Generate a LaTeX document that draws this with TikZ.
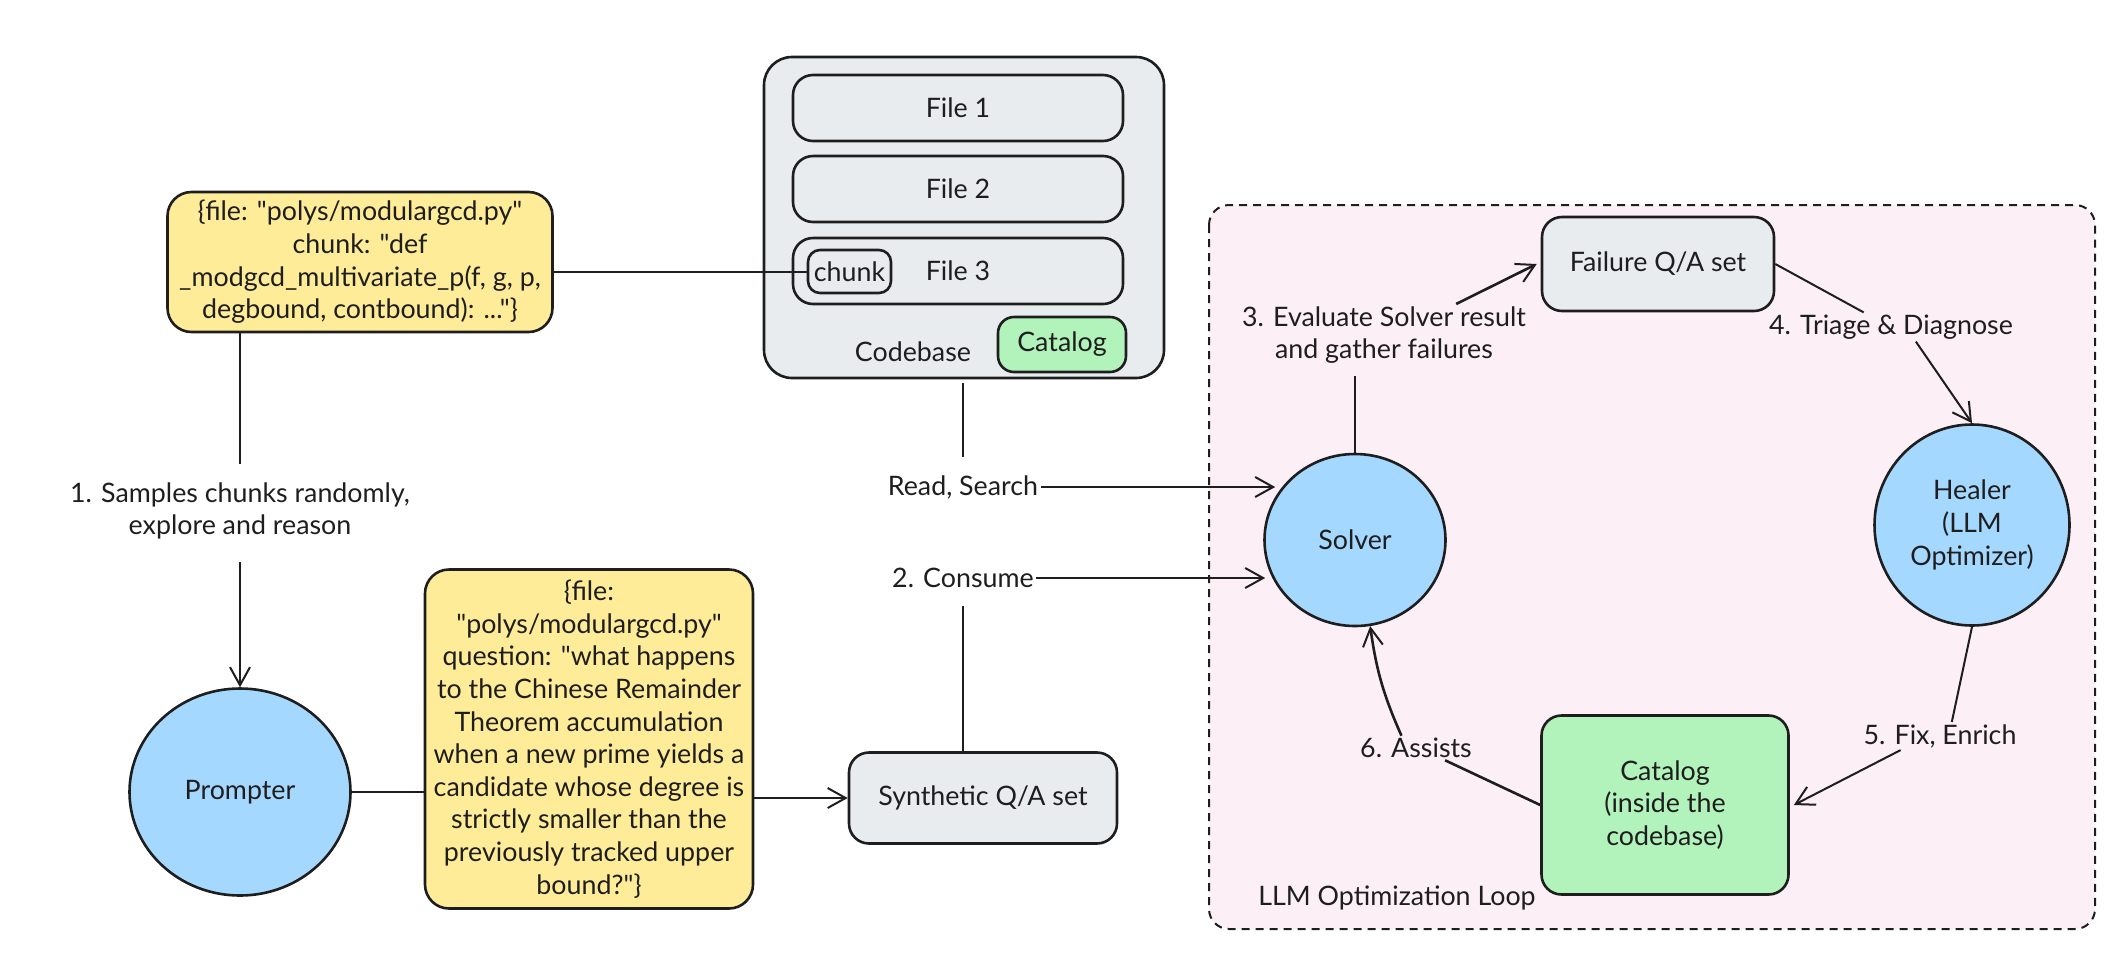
\documentclass[tikz,border=0pt]{standalone}
\usepackage{fontspec}
\newfontfamily\lato{Lato}
\usetikzlibrary{arrows.meta,calc,shapes.geometric}
\definecolor{ink}{HTML}{1E1E1E}
\definecolor{yel}{HTML}{FFEC99}
\definecolor{gry}{HTML}{E9ECEF}
\definecolor{blu}{HTML}{A5D8FF}
\definecolor{grn}{HTML}{B2F2BB}
\definecolor{pnk}{HTML}{FCEFF5}
\tikzset{
  base/.style={draw=ink,line width=1.3pt,text=ink,inner sep=0pt,align=center,
    font=\lato\fontsize{13.4}{16.3}\selectfont},
  ybox/.style={base,fill=yel,rounded corners=12pt},
  gbox/.style={base,fill=gry,rounded corners=10pt},
  cbox/.style={base,fill=grn,rounded corners=10pt},
  bcirc/.style={base,fill=blu,ellipse},
  lbl/.style={text=ink,inner sep=1pt,align=center,font=\lato\fontsize{13.4}{16.3}\selectfont},
  conn/.style={draw=ink,line width=1pt},
  arr/.style={conn,-{Straight Barb[length=9pt,width=10pt,line width=1pt]}},
}
\begin{document}
\begin{tikzpicture}[x=0.5pt,y=-0.5pt]
\useasboundingbox (0,0) rectangle (2120,954);
% loop region
\draw[fill=pnk,draw=ink,line width=1pt,dash pattern=on 4pt off 3pt,rounded corners=10pt]
  (1209,205) rectangle (2095,929);
% codebase
\node[gbox,minimum width=200pt,minimum height=160.5pt,rounded corners=14pt] (cb) at (964,217.5) {};
\node[gbox,minimum width=165pt,minimum height=33pt] (f1) at (958,108) {File 1};
\node[gbox,minimum width=165pt,minimum height=33pt] (f2) at (958,189) {File 2};
\node[gbox,minimum width=165pt,minimum height=33pt] (f3) at (958,271) {File 3};
\node[gbox,minimum width=41.5pt,minimum height=21.5pt,rounded corners=6pt] (chunk) at (849.5,271.5) {chunk};
\node[cbox,minimum width=64pt,minimum height=27.5pt,rounded corners=8pt] (catS) at (1062,344.5) {Catalog};
\node[lbl] (cblabel) at (913,352) {Codebase};
% left part
\node[ybox,minimum width=192.5pt,minimum height=70pt] (y1) at (360,262)
  {\{file: "polys/modulargcd.py"\\chunk: "def\\\_modgcd\_multivariate\_p(f, g, p,\\degbound, contbound): ..."\}};
\node[lbl] (l1) at (240,511) {1. Samples chunks randomly,\\explore and reason};
\node[bcirc,minimum width=110.5pt,minimum height=103.5pt] (prompter) at (240,792) {Prompter};
\node[ybox,minimum width=164pt,minimum height=169.5pt] (y2) at (589,739)
  {\{file:\\"polys/modulargcd.py"\\question: "what happens\\to the Chinese Remainder\\Theorem accumulation\\when a new prime yields a\\candidate whose degree is\\strictly smaller than the\\previously tracked upper\\bound?"\}};
\node[gbox,minimum width=134pt,minimum height=45.5pt] (syn) at (983,798) {Synthetic Q/A set};
\node[lbl] (lread) at (963,487) {Read, Search};
\node[lbl] (lcons) at (963,578) {2. Consume};
% loop
\node[bcirc,minimum width=90.5pt,minimum height=86pt] (solver) at (1355,540) {Solver};
\node[gbox,minimum width=116pt,minimum height=47pt] (fail) at (1658,264) {Failure Q/A set};
\node[bcirc,minimum width=97.5pt,minimum height=100.5pt] (healer) at (1972,525) {Healer\\(LLM\\Optimizer)};
\node[cbox,minimum width=123.5pt,minimum height=89.5pt] (catB) at (1665,805) {Catalog\\(inside the\\codebase)};
\node[lbl] (l3) at (1384,335) {3. Evaluate Solver result\\and gather failures};
\node[lbl] (l4) at (1891,327) {4. Triage \& Diagnose};
\node[lbl] (l5) at (1940,736) {5. Fix, Enrich};
\node[lbl] (l6) at (1416,748) {6. Assists};
\node[lbl] (lloop) at (1397,898) {LLM Optimization Loop};
% connectors
\draw[conn] (chunk.west -| y1.east) -- (chunk.west);
\draw[conn] (l1.north |- y1.south) -- ([yshift=8pt]l1.north);
\draw[arr] ([yshift=-10pt]l1.south) -- (prompter.north);
\draw[conn] (prompter.east) -- (prompter.east -| y2.west);
\draw[arr] (syn.west -| y2.east) -- (syn.west);
\draw[conn] ([yshift=-2pt]cb.south -| lread) -- ([yshift=8pt]lread.north);
\draw[arr] (lread.east) -- ([xshift=6pt]lread.east -| solver.west);
\draw[conn] (syn.north -| lcons) -- ([yshift=-8pt]lcons.south);
\draw[arr] (lcons.east) -- ([xshift=1pt]lcons.east -| solver.west);
\draw[conn] (solver.north) -- ([yshift=-5pt]l3.south -| solver.north);
\draw[arr,line width=1.3pt] ($(l3.north)!0.5!(l3.north east)$) -- ([xshift=-2pt]fail.west);
\draw[conn] (fail.east) -- ($(l4.north west)!0.78!(l4.north)$);
\draw[arr] ($(l4.south)!0.2!(l4.south east)$) -- (healer.north);
\draw[conn] (healer.south) -- ($(l5.north)!0.15!(l5.north east)$);
\draw[arr] ($(l5.south west)!0.5!(l5.south)$) -- ([xshift=2pt]catB.east);
\draw[conn,line width=1.3pt] (catB.west) -- ($(l6.south)!0.5!(l6.south east)$);
\draw[arr,line width=1.3pt] ($(l6.north west)!0.75!(l6.north)$) to[bend left=8] (solver.-80);
\end{tikzpicture}
\end{document}
